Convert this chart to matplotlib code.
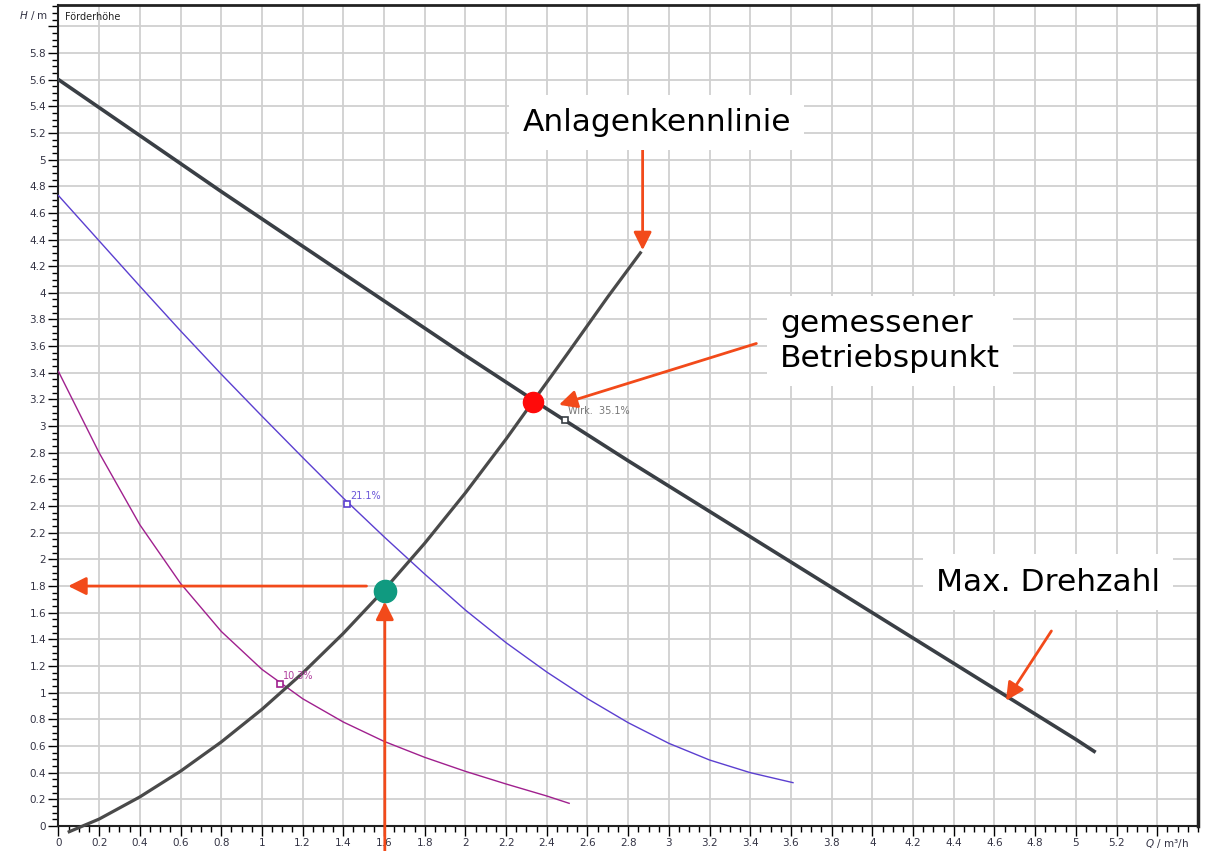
import numpy as np
import matplotlib
matplotlib.use("Agg")
import matplotlib.pyplot as plt
from matplotlib.ticker import MultipleLocator, FixedLocator

# --- data (Q in m3/h, H in m) ---
q_max = [0, 0.2, 0.4, 0.6, 0.8, 1.0, 1.2, 1.4, 1.6, 1.8, 2.0, 2.2, 2.4, 2.6,
         2.8, 3.0, 3.2, 3.4, 3.6, 3.8, 4.0, 4.2, 4.4, 4.6, 4.8, 5.0, 5.09]
h_max = [5.6, 5.39, 5.18, 4.97, 4.76, 4.555, 4.35, 4.145, 3.94, 3.735, 3.53,
         3.33, 3.13, 2.935, 2.74, 2.55, 2.36, 2.17, 1.98, 1.79, 1.6, 1.41,
         1.22, 1.03, 0.84, 0.65, 0.56]

q_mid = [0, 0.2, 0.4, 0.6, 0.8, 1.0, 1.2, 1.4, 1.6, 1.8, 2.0, 2.2, 2.4, 2.6,
         2.8, 3.0, 3.2, 3.4, 3.61]
h_mid = [4.73, 4.39, 4.05, 3.715, 3.39, 3.075, 2.765, 2.46, 2.17, 1.89, 1.62,
         1.375, 1.155, 0.955, 0.775, 0.62, 0.495, 0.40, 0.325]

q_low = [0, 0.2, 0.4, 0.6, 0.8, 1.0, 1.2, 1.4, 1.6, 1.8, 2.0, 2.2, 2.4, 2.51]
h_low = [3.41, 2.80, 2.26, 1.82, 1.46, 1.175, 0.955, 0.78, 0.635, 0.515, 0.41,
         0.315, 0.225, 0.17]

q_sys = [0.053, 0.2, 0.4, 0.6, 0.8, 1.0, 1.2, 1.4, 1.6, 1.8, 2.0, 2.2, 2.33,
         2.5, 2.7, 2.86]
h_sys = [-0.043, 0.052, 0.218, 0.411, 0.63, 0.875, 1.147, 1.445, 1.77, 2.121,
         2.499, 2.903, 3.18, 3.54, 3.97, 4.30]

# efficiency markers (Q, H, label)
eff_q = [2.488, 1.42, 1.088]
eff_h = [3.046, 2.413, 1.063]
eff_labels = ["Wirk.  35.1%", "21.1%", "10.3%"]

op_measured = (2.33, 3.18)   # gemessener Betriebspunkt
op_new = (1.604, 1.763)      # Schnittpunkt mit Anlagenkennlinie

c_max = "#3a3f45"
c_sys = "#4a4a4a"
c_mid = "#5b3fd0"
c_low = "#a0208e"
c_arrow = "#f24a1a"

fig = plt.figure(figsize=(12.1, 8.51), dpi=100)
ax = fig.add_axes([0.0483, 0.0294, 0.9417, 0.9648])

ax.set_xlim(0, 5.6)
ax.set_ylim(0, 6.16)

# grid + ticks
xt = np.round(np.arange(0, 5.6, 0.2), 1)
yt = np.round(np.arange(0, 6.1, 0.2), 1)
ax.xaxis.set_major_locator(FixedLocator(xt))
ax.yaxis.set_major_locator(FixedLocator(yt))
ax.xaxis.set_minor_locator(MultipleLocator(0.05))
ax.yaxis.set_minor_locator(MultipleLocator(0.05))
ax.set_xticklabels([f"{v:g}" if v < 5.3 else "" for v in xt])
ax.set_yticklabels([f"{v:g}" if v < 5.9 else "" for v in yt])
ax.tick_params(which="major", direction="out", length=7, width=1, labelsize=7.5,
               labelcolor="#333344", pad=2)
ax.tick_params(which="minor", direction="out", length=4, width=1)
ax.grid(True, which="major", color="#d0d0d0", lw=1.3)
ax.set_axisbelow(True)
for s in ax.spines.values():
    s.set_color("#222222")
ax.spines["left"].set_linewidth(1.5)
ax.spines["bottom"].set_linewidth(1.5)
ax.spines["top"].set_linewidth(2)
ax.spines["right"].set_linewidth(2.5)

# curves
ax.plot(q_max, h_max, color=c_max, lw=2.6, zorder=3)
ax.plot(q_mid, h_mid, color=c_mid, lw=1.0, zorder=3)
ax.plot(q_low, h_low, color=c_low, lw=1.0, zorder=3)
ax.plot(q_sys, h_sys, color=c_sys, lw=2.3, zorder=3, clip_on=False)

# efficiency markers
for q, h, lab, c, tc in zip(eff_q, eff_h, eff_labels,
                            [c_max, c_mid, c_low],
                            ["#777777", "#6a55d8", "#b0409e"]):
    ax.plot(q, h, marker="s", ms=5, mfc="white", mec=c, mew=1.2, zorder=4)
    ax.text(q + 0.015, h + 0.065, lab, color=tc, fontsize=7, ha="left",
            va="center", zorder=4)

# operating points
ax.plot(*op_measured, "o", ms=14.5, color="#ff0a0a", zorder=5)
ax.plot(*op_new, "o", ms=16, color="#109a80", zorder=5)

# arrows
arrows = [((2.871, 5.086), (2.871, 4.32)),
          ((3.43, 3.62), (2.46, 3.16)),
          ((4.88, 1.463), (4.657, 0.94)),
          ((1.514, 1.80), (0.048, 1.80)),
          ((1.604, -0.19), (1.604, 1.683))]
for tail, tip in arrows:
    ax.annotate("", xy=tip, xytext=tail, zorder=6,
                arrowprops=dict(arrowstyle="-|>", color=c_arrow, lw=2,
                                mutation_scale=27, shrinkA=0, shrinkB=0))

# callout labels
box = dict(boxstyle="square,pad=0.42", fc="white", ec="none")
ax.text(2.28, 5.28, "Anlagenkennlinie", fontsize=22.5, ha="left", va="center",
        bbox=box, zorder=7)
ax.text(3.545, 3.64, "gemessener\nBetriebspunkt", fontsize=22.5, ha="left",
        va="center", linespacing=1.27, bbox=box, zorder=7)
ax.text(4.314, 1.83, "Max. Drehzahl", fontsize=22.5, ha="left", va="center",
        bbox=box, zorder=7)

# axis captions
ax.text(0.03, 6.07, "Förderhöhe", fontsize=7, ha="left", va="center",
        color="#222222")
ax.text(-0.05, 6.08, r"$H$ / m", fontsize=7.5, ha="right", va="center",
        color="#333344", clip_on=False)
ax.text(5.45, -0.128, r"$Q$ / m³/h", fontsize=7.5, ha="center", va="center",
        color="#333344", clip_on=False)

fig.savefig("out.png", dpi=100)
